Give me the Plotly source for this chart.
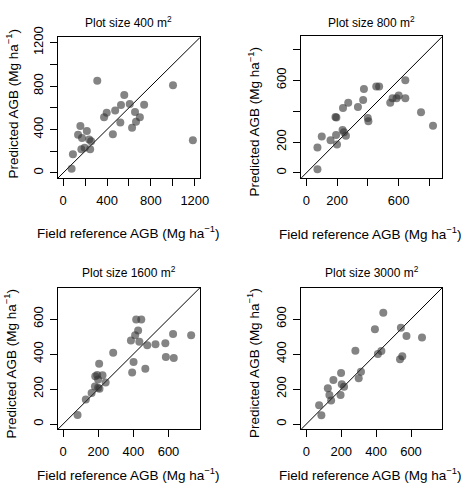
import plotly.graph_objects as go

# ---------------- data ----------------
p400_field = [77, 89, 136, 157, 172, 166, 196, 216, 237, 246, 255, 311, 373, 397, 453, 474,
              521, 527, 557, 607, 628, 655, 664, 699, 738, 1001, 1182]
p400_pred = [39, 173, 351, 432, 322, 217, 232, 387, 307, 217, 292, 849, 512, 554, 357, 575,
             465, 625, 718, 634, 417, 560, 471, 512, 628, 807, 301]

p800_field = [72, 72, 100, 157, 193, 189, 195, 199, 235, 244, 257, 238, 272, 335, 369, 374,
              399, 403, 454, 473, 545, 560, 586, 600, 643, 643, 745, 823]
p800_pred = [23, 164, 236, 211, 246, 362, 358, 183, 278, 263, 240, 421, 455, 427, 472, 543,
             356, 335, 560, 560, 455, 484, 484, 501, 600, 484, 392, 305]

p1600_field = [82, 129, 162, 181, 183, 194, 199, 199, 205, 207, 224, 242, 285, 386, 393, 401,
               410, 416, 427, 434, 445, 468, 479, 526, 582, 585, 626, 630, 729]
p1600_pred = [52, 140, 178, 215, 273, 280, 207, 254, 344, 202, 279, 237, 407, 477, 295, 355,
              507, 598, 535, 471, 598, 316, 450, 456, 462, 383, 514, 378, 507]

p3000_field = [73, 86, 123, 132, 142, 155, 196, 199, 203, 216, 281, 300, 313, 393, 410, 430,
               441, 537, 542, 550, 574, 663]
p3000_pred = [107, 50, 204, 166, 135, 252, 166, 292, 228, 213, 419, 262, 299, 542, 400, 417,
              636, 370, 551, 387, 503, 495]

titles = ["Plot size 400 m<sup>2</sup>", "Plot size 800 m<sup>2</sup>",
          "Plot size 1600 m<sup>2</sup>", "Plot size 3000 m<sup>2</sup>"]
axis_max = [1200, 850, 750, 750]
tick_vals = [[0, 200, 400, 600, 800, 1000, 1200], [0, 200, 400, 600, 800],
             [0, 200, 400, 600], [0, 200, 400, 600]]
tick_text = [["0", "", "400", "", "800", "", "1200"], ["0", "200", "", "600", ""],
             ["0", "200", "400", "600"], ["0", "200", "400", "600"]]
xlab = "Field reference AGB (Mg ha<sup>\u22121</sup>)"
ylab = "Predicted AGB (Mg ha<sup>\u22121</sup>)"

# ---------------- layout geometry (pixels) ----------------
W, H = 472, 485
boxes = [(59, 204, 27, 171), (307, 451, 26, 171), (59, 204, 283, 428), (307, 451, 283, 428)]
title_pos = [(131, 11), (379, 11), (131.5, 267), (379, 267)]
xlab_pos = [(131.5, 226), (378, 227), (131.5, 474), (378, 474)]
ylab_pos = [(12, 95), (259, 113), (10, 361), (258, 360)]

FONT = "Liberation Sans, Arial, Helvetica, sans-serif"
series = [(p400_field, p400_pred), (p800_field, p800_pred),
          (p1600_field, p1600_pred), (p3000_field, p3000_pred)]

fig = go.Figure()
annotations = []
for i, ((fx, fy), M) in enumerate(zip(series, axis_max)):
    n = "" if i == 0 else str(i + 1)
    lo, hi = -0.04 * M, 1.04 * M
    fig.add_trace(go.Scatter(
        x=[lo, hi], y=[lo, hi], mode="lines",
        line=dict(color="black", width=1), xaxis="x" + n, yaxis="y" + n,
        showlegend=False, hoverinfo="skip"))
    fig.add_trace(go.Scatter(
        x=fx, y=fy, mode="markers",
        marker=dict(size=8, color="rgba(50,50,50,0.6)", line=dict(width=0)),
        xaxis="x" + n, yaxis="y" + n, showlegend=False))
    x0, x1, y0, y1 = boxes[i]
    common = dict(range=[lo, hi], showgrid=False, zeroline=False, showline=True,
                  mirror=True, linecolor="black", linewidth=1, ticks="outside",
                  ticklen=7, tickwidth=1, tickcolor="black",
                  tickvals=tick_vals[i], ticktext=tick_text[i],
                  tickfont=dict(family=FONT, size=13, color="black"))
    fig.update_layout(**{
        "xaxis" + n: dict(domain=[x0 / W, x1 / W], anchor="y" + n,
                          ticklabelstandoff=3, **common),
        "yaxis" + n: dict(domain=[1 - y1 / H, 1 - y0 / H], anchor="x" + n,
                          tickangle=-90, ticklabelstandoff=2, **common),
    })
    tx, ty = title_pos[i]
    annotations.append(dict(text=titles[i], x=tx / W, y=1 - ty / H, xref="paper", yref="paper",
                            showarrow=False, xanchor="center", yanchor="middle",
                            font=dict(family=FONT, size=12, color="black")))
    ax, ay = xlab_pos[i]
    annotations.append(dict(text=xlab, x=ax / W, y=1 - ay / H, xref="paper", yref="paper",
                            showarrow=False, xanchor="center", yanchor="middle",
                            font=dict(family=FONT, size=13.5, color="black")))
    bx, by = ylab_pos[i]
    annotations.append(dict(text=ylab, x=bx / W, y=1 - by / H, xref="paper", yref="paper",
                            showarrow=False, xanchor="center", yanchor="middle", textangle=-90,
                            font=dict(family=FONT, size=13.5, color="black")))

fig.update_layout(width=W, height=H, margin=dict(l=0, r=0, t=0, b=0),
                  paper_bgcolor="white", plot_bgcolor="white",
                  annotations=annotations, showlegend=False)
fig.write_html("out.html", config={"displayModeBar": False},
               post_script="document.body.style.margin='0';")
